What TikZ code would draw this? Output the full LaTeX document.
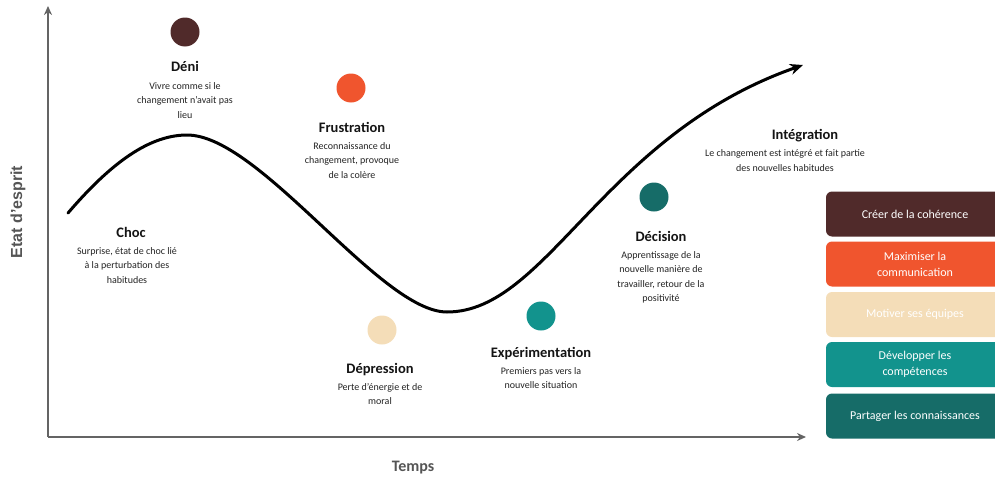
\documentclass[tikz,border=0pt]{standalone}
\usepackage{fontspec}
\setmainfont{Carlito}
\newfontfamily\axisfont{Liberation Sans}
\usetikzlibrary{arrows.meta}
\definecolor{axisgray}{RGB}{100,100,100}
\definecolor{labgray}{RGB}{85,85,85}
\definecolor{cBrown}{RGB}{80,42,42}
\definecolor{cOrange}{RGB}{240,85,46}
\definecolor{cBeige}{RGB}{244,221,184}
\definecolor{cTeal}{RGB}{18,147,141}
\definecolor{cDTeal}{RGB}{22,108,104}
\definecolor{ttlc}{RGB}{20,20,20}
\definecolor{bodyc}{RGB}{35,35,35}
\begin{document}
\begin{tikzpicture}[x=1pt,y=-1pt,
  ttl/.style={font=\fontsize{14.5}{16}\selectfont\bfseries, inner sep=0pt, anchor=base, text=ttlc},
  body/.style={font=\fontsize{10}{14.5}\selectfont, align=center, inner sep=0pt, anchor=north, text=bodyc},
  dot/.style={circle, minimum size=29pt, inner sep=0pt},
  act/.style={rounded corners=6pt, minimum width=178pt, minimum height=45pt, text=white, align=center, font=\fontsize{12}{16}\selectfont, inner sep=0pt},
  axisline/.style={draw=axisgray, line width=2.5pt, -{Stealth[length=9pt,width=8pt]}},
  curveline/.style={draw=black, line width=3pt, line cap=round, -{Stealth[length=13pt,width=11pt]}}]
\useasboundingbox (0,0) rectangle (995,479);

% axes
\coordinate (O) at (48,437);
\coordinate (ytop) at (48,6);
\coordinate (xend) at (806,437);
\draw[axisline] (O) -- (ytop);
\draw[axisline] (O) -- (xend);
\node[rotate=90, font=\axisfont\bfseries\fontsize{16}{18}\selectfont, text=labgray, inner sep=0pt] (ylab) at (18,212) {Etat d’esprit};
\node[font=\bfseries\fontsize{16}{18}\selectfont, text=labgray, inner sep=0pt] (xlab) at (413,468) {Temps};

% curve
\coordinate (c0) at (68,213);
\coordinate (c1) at (187,135);
\coordinate (c2) at (447,312);
\coordinate (c4) at (803,65);
\draw[curveline] (c0) .. controls (105,170) and (145,135) .. (c1)
  .. controls (260,135) and (380,312) .. (c2)
  .. controls (547,312) and (603,135) .. (c4);

% Deni
\node[dot, fill=cBrown] (deniDot) at (185,32) {};
\node[ttl] (deniT) at (185,71.5) {Déni};
\node[body] (deniB) at (185,82) {Vivre comme si le\\changement n’avait pas\\lieu};

% Frustration
\node[dot, fill=cOrange] (frusDot) at (351,88) {};
\node[ttl] (frusT) at (352,132.5) {Frustration};
\node[body] (frusB) at (352,142) {Reconnaissance du\\changement, provoque\\de la colère};

% Choc
\node[ttl] (chocT) at (131,237.5) {Choc};
\node[body] (chocB) at (127,247) {Surprise, état de choc lié\\à la perturbation des\\habitudes};

% Depression
\node[dot, fill=cBeige] (depDot) at (382,330) {};
\node[ttl] (depT) at (380,373.5) {Dépression};
\node[body] (depB) at (380,383) {Perte d’énergie et de\\moral};

% Experimentation
\node[dot, fill=cTeal] (expDot) at (541,316) {};
\node[ttl] (expT) at (541,357.5) {Expérimentation};
\node[body] (expB) at (541,367) {Premiers pas vers la\\nouvelle situation};

% Decision
\node[dot, fill=cDTeal] (decDot) at (654,197) {};
\node[ttl] (decT) at (661,241.5) {Décision};
\node[body] (decB) at (661,251) {Apprentissage de la\\nouvelle manière de\\travailler, retour de la\\positivité};

% Integration
\node[ttl] (intT) at (805,139.5) {Intégration};
\node[body, font=\fontsize{10}{15.5}\selectfont] (intB) at (785,149) {Le changement est intégré et fait partie\\des nouvelles habitudes};

% action boxes
\begin{scope}
\clip (0,0) rectangle (995,479);
\node[act, fill=cBrown] (a1) at (915,214) {Créer de la cohérence};
\node[act, fill=cOrange] (a2) at (915,264) {Maximiser la\\communication};
\node[act, fill=cBeige] (a3) at (915,314.5) {Motiver ses équipes};
\node[act, fill=cTeal] (a4) at (915,364.5) {Développer les\\compétences};
\node[act, fill=cDTeal] (a5) at (915,416) {Partager les connaissances};
\end{scope}
\end{tikzpicture}
\end{document}
